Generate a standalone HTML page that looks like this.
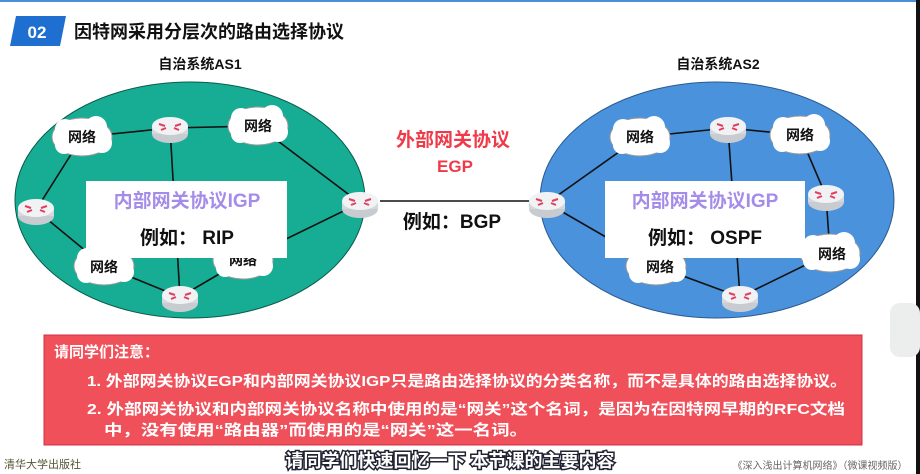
<!DOCTYPE html>
<html><head><meta charset="utf-8"><style>
body{margin:0;width:920px;height:474px;overflow:hidden;background:#fff;font-family:"Liberation Sans","Noto Sans CJK SC",sans-serif}
</style></head><body>
<svg width="920" height="474" viewBox="0 0 920 474" xmlns="http://www.w3.org/2000/svg" style="position:absolute;left:0;top:0">
<defs>
<g id="r"><ellipse cx="0" cy="6" rx="18" ry="9" fill="#c8ccd0"/><rect x="-18" y="-2" width="36" height="8" fill="#d4d8dc"/><ellipse cx="0" cy="-2" rx="18" ry="9" fill="#f1f2f4"/><path d="M-11,-4 l6,2 M11,-4 l-6,2 M-9,2 l5,-2 M9,2 l-5,-2" stroke="#e04060" stroke-width="2"/></g>
<g id="c"><ellipse cx="0" cy="0" rx="30" ry="19" fill="#fff" stroke="#999" stroke-width="1"/><circle cx="-17" cy="-8" r="10" fill="#fff"/><circle cx="14" cy="-10" r="11" fill="#fff"/><circle cx="20" cy="6" r="10" fill="#fff"/><circle cx="-18" cy="8" r="9" fill="#fff"/></g>
</defs>
<rect x="0" y="0" width="916" height="2" fill="#4a8fd8"/>
<polygon points="16,16 66,16 60,46 10,46" fill="#1e6fd0"/>
<text x="37" y="38" fill="#fff" font-size="17" font-weight="bold" text-anchor="middle">02</text>
<text x="74" y="38" font-size="18" font-weight="bold" fill="#111">因特网采用分层次的路由选择协议</text>
<text x="200" y="69" font-size="14" font-weight="bold" text-anchor="middle" fill="#111">自治系统AS1</text>
<text x="718" y="69" font-size="14" font-weight="bold" text-anchor="middle" fill="#111">自治系统AS2</text>
<ellipse cx="190" cy="200" rx="175" ry="118" fill="#16ad94" stroke="#0c5a4c" stroke-width="1"/>
<ellipse cx="717" cy="200" rx="177" ry="118" fill="#4a92dc" stroke="#2a5a90" stroke-width="1"/>
<g stroke="#111" stroke-width="1.6" fill="none">
<path d="M82,137 L170,128 L258,126 L360,203 L243,260 L180,297 L104,266 L36,210 L82,137 M170,128 L180,297"/>
<path d="M380,201 L530,201"/>
<path d="M547,203 L640,137 L728,128 L800,135 L826,196 L830,253 L740,297 L656,266 L547,203 M728,128 L740,297"/>
</g>
<use href="#c" x="82" y="137"/><use href="#c" x="258" y="126"/><use href="#c" x="104" y="266"/><use href="#c" x="243" y="260"/>
<use href="#c" x="640" y="137"/><use href="#c" x="800" y="135"/><use href="#c" x="656" y="266"/><use href="#c" x="830" y="253"/>
<g font-size="14" font-weight="bold" fill="#111" text-anchor="middle">
<text x="82" y="142">网络</text><text x="258" y="131">网络</text><text x="104" y="272">网络</text><text x="243" y="265">网络</text>
<text x="640" y="142">网络</text><text x="800" y="140">网络</text><text x="660" y="272">网络</text><text x="832" y="259">网络</text>
</g>
<use href="#r" x="170" y="128"/><use href="#r" x="36" y="210"/><use href="#r" x="180" y="297"/><use href="#r" x="360" y="203"/>
<use href="#r" x="547" y="203"/><use href="#r" x="728" y="128"/><use href="#r" x="826" y="196"/><use href="#r" x="740" y="297"/>
<rect x="86" y="181" width="201" height="77" fill="#fff"/>
<rect x="605" y="181" width="200" height="77" fill="#fff"/>
<g font-size="19" font-weight="bold" text-anchor="middle">
<text x="187" y="207" fill="#a58ce8">内部网关协议IGP</text>
<text x="187" y="244" fill="#111">例如： RIP</text>
<text x="705" y="207" fill="#a58ce8">内部网关协议IGP</text>
<text x="705" y="244" fill="#111">例如： OSPF</text>
<text x="453" y="146" fill="#ef3a4a">外部网关协议</text>
<text x="455" y="172" fill="#ef3a4a" font-size="17">EGP</text>
<text x="452" y="228" fill="#111">例如：BGP</text>
</g>
<rect x="44" y="335" width="818" height="110" fill="#f0505a" stroke="#d03040"/>
<g fill="#fff" font-size="15" font-weight="bold">
<text x="54" y="357">请同学们注意：</text>
<text x="87" y="386" textLength="760" lengthAdjust="spacingAndGlyphs">1. 外部网关协议EGP和内部网关协议IGP只是路由选择协议的分类名称，而不是具体的路由选择协议。</text>
<text x="87" y="414" textLength="758" lengthAdjust="spacingAndGlyphs">2. 外部网关协议和内部网关协议名称中使用的是“网关”这个名词，是因为在因特网早期的RFC文档</text>
<text x="104" y="435" textLength="424" lengthAdjust="spacingAndGlyphs">中，没有使用“路由器”而使用的是“网关”这一名词。</text>
</g>
<text x="4" y="468" font-size="11" fill="#553">清华大学出版社</text>
<text x="450" y="467" font-size="18" font-weight="bold" text-anchor="middle" fill="#fff" stroke="#223" stroke-width="3" paint-order="stroke">请同学们快速回忆一下 本节课的主要内容</text>
<text x="820" y="469" font-size="10" text-anchor="middle" fill="#666">《深入浅出计算机网络》（微课视频版）</text>
<rect x="916" y="0" width="4" height="474" fill="#111"/>
<rect x="890" y="303" width="30" height="54" rx="10" fill="#eceded"/>
</svg>
</body></html>
